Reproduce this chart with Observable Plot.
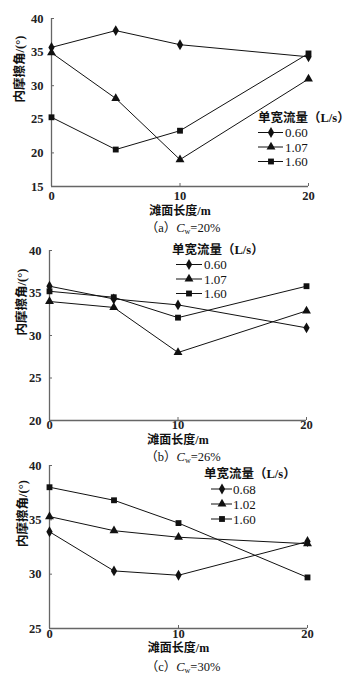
<!DOCTYPE html>
<html><head><meta charset="utf-8">
<script src="https://cdn.jsdelivr.net/npm/d3@7"></script>
<script src="https://cdn.jsdelivr.net/npm/@observablehq/plot@0.6"></script>
<style>
body{margin:0;background:#fff;}
#wrap{position:relative;width:359px;height:678px;overflow:hidden;font-family:"Liberation Serif","Noto Sans CJK SC",serif;}
.panel{position:absolute;left:0;}
.cap{position:absolute;left:0;width:359px;font-size:12.5px;line-height:14px;color:#111;}
.cap span{position:absolute;transform:translateX(-50%);white-space:nowrap;}
.cap sub{font-size:8px;vertical-align:-2px;line-height:0;}
#leg{position:absolute;left:0;top:0;}
</style></head>
<body><div id="wrap"></div>
<script>
// ---- data ----
const lengths = [0, 5, 10, 20];
const xTicks = [0, 10, 20];
const legendTitle = "单宽流量（L/s）";
const yLabel = "内摩擦角/(°)";
const xLabel = "滩面长度/m";

const flowsA = ["0.60", "1.07", "1.60"];
const a060 = [35.7, 38.2, 36.1, 34.3];
const a107 = [34.9, 28.1, 19.0, 31.0];
const a160 = [25.3, 20.5, 23.3, 34.8];

const flowsB = ["0.60", "1.07", "1.60"];
const b060 = [35.8, 34.3, 33.6, 30.9];
const b107 = [34.0, 33.3, 28.0, 32.9];
const b160 = [35.2, 34.5, 32.1, 35.8];

const flowsC = ["0.68", "1.02", "1.60"];
const c068 = [33.9, 30.3, 29.9, 33.0];
const c102 = [35.3, 34.0, 33.4, 32.8];
const c160 = [38.0, 36.8, 34.7, 29.7];

const yTicksA = [15, 20, 25, 30, 35, 40];
const yTicksB = [20, 25, 30, 35, 40];
const yTicksC = [25, 30, 35, 40];

const captions = [["a", "20%"], ["b", "26%"], ["c", "30%"]];
const symbols = ["diamond", "triangle", "square"];

function rows(flows, series) {
  const out = [];
  flows.forEach((f, i) => series[i].forEach((v, j) => out.push({flow: f, len: lengths[j], phi: v, sym: symbols[i]})));
  return out;
}

const panels = [
  {data: rows(flowsA, [a060, a107, a160]), flows: flowsA, yDomain: [15, 40], yTicks: yTicksA,
   top: 0, height: 222, mt: 18, mb: 36, ml: 51, mr: 51, tickPad: 5, xlabDy: 28, ylabDx: -32,
   cap: 228, leg: {x: 258, y: 118, dy: 14.5, lx1: 258, lx2: 283, mx: 271, tx: 285}},
  {data: rows(flowsB, [b060, b107, b160]), flows: flowsB, yDomain: [20, 40], yTicks: yTicksB,
   top: 236, height: 214, mt: 14, mb: 30, ml: 49, mr: 53, tickPad: 0, xlabDy: 23, ylabDx: -28,
   cap: 457, leg: {x: 172, y: 250, dy: 14.5, lx1: 176, lx2: 202, mx: 189, tx: 204}},
  {data: rows(flowsC, [c068, c102, c160]), flows: flowsC, yDomain: [25, 40], yTicks: yTicksC,
   top: 452, height: 210, mt: 13, mb: 34, ml: 49, mr: 52, tickPad: 1, xlabDy: 23, ylabDx: -27,
   cap: 667, leg: {x: 204, y: 474, dy: 15, lx1: 211, lx2: 232, mx: 222, tx: 233}}
];

const wrap = document.getElementById("wrap");
const font = '"Liberation Serif","Noto Sans CJK SC",serif';

panels.forEach((p, k) => {
  const chart = Plot.plot({
    width: 359, height: p.height,
    marginTop: p.mt, marginBottom: p.mb, marginLeft: p.ml, marginRight: p.mr,
    style: {fontFamily: font, fontSize: "12px", color: "#111", background: "transparent"},
    x: {domain: [0, 20], axis: null},
    y: {domain: p.yDomain, axis: null},
    symbol: {domain: symbols, range: symbols},
    marks: [
      Plot.axisX({ticks: xTicks, tickSize: 0, tickPadding: p.tickPad, label: null, fontSize: 12.5, fontWeight: "bold", fill: "#222"}),
      Plot.axisY({ticks: p.yTicks, tickSize: 0, tickPadding: 8, label: null, fontSize: 12.5, fontWeight: "bold", fill: "#222"}),
      Plot.axisX({ticks: xTicks, tickSize: 3, dy: -3, text: null, label: null, stroke: "#666"}),
      Plot.axisY({ticks: p.yTicks, tickSize: 3, dx: 3, text: null, label: null, stroke: "#666"}),
      Plot.ruleX([0], {stroke: "#666", strokeWidth: 1.3}),
      Plot.ruleY([p.yDomain[0]], {stroke: "#666", strokeWidth: 1.3}),
      Plot.line(p.data, {x: "len", y: "phi", z: "flow", stroke: "#111", strokeWidth: 1}),
      Plot.dot(p.data, {x: "len", y: "phi", symbol: "sym", fill: "#111", stroke: "none", r: 3.3}),
      Plot.text([xLabel], {frameAnchor: "bottom", dy: p.xlabDy, fontSize: 12, fill: "#111", fontWeight: "bold"}),
      Plot.text([yLabel], {frameAnchor: "left", dx: p.ylabDx, rotate: -90, fontSize: 12.5, fill: "#111", fontWeight: "bold"})
    ]
  });
  const div = document.createElement("div");
  div.className = "panel";
  div.style.top = p.top + "px";
  div.appendChild(chart);
  wrap.appendChild(div);

  const cap = document.createElement("div");
  cap.className = "cap";
  cap.style.top = (p.cap - 7) + "px";
  cap.innerHTML = `<span style="left:183px">（${captions[k][0]}）<i>C</i><sub>w</sub>=${captions[k][1]}</span>`;
  wrap.appendChild(cap);
});

// legends overlay
const svg = d3.select(wrap).append("svg").attr("id", "leg").attr("width", 359).attr("height", 678)
  .style("font-family", font);
const d3sym = {diamond: d3.symbolDiamond, triangle: d3.symbolTriangle, square: d3.symbolSquare};
panels.forEach(p => {
  const L = p.leg;
  svg.append("text").attr("x", L.x).attr("y", L.y).attr("dy", "0.35em")
    .attr("font-size", 12.5).attr("font-weight", "bold").attr("fill", "#111").text(legendTitle);
  p.flows.forEach((f, i) => {
    const y = L.y + L.dy * (i + 1);
    svg.append("line").attr("x1", L.lx1).attr("x2", L.lx2).attr("y1", y).attr("y2", y)
      .attr("stroke", "#111").attr("stroke-width", 1);
    svg.append("path").attr("transform", `translate(${L.mx},${y})`)
      .attr("d", d3.symbol(d3sym[symbols[i]], Math.PI * 3.3 * 3.3)()).attr("fill", "#111");
    svg.append("text").attr("x", L.tx).attr("y", y).attr("dy", "0.35em")
      .attr("font-size", 13).attr("fill", "#111").text(f);
  });
});
</script></body></html>
